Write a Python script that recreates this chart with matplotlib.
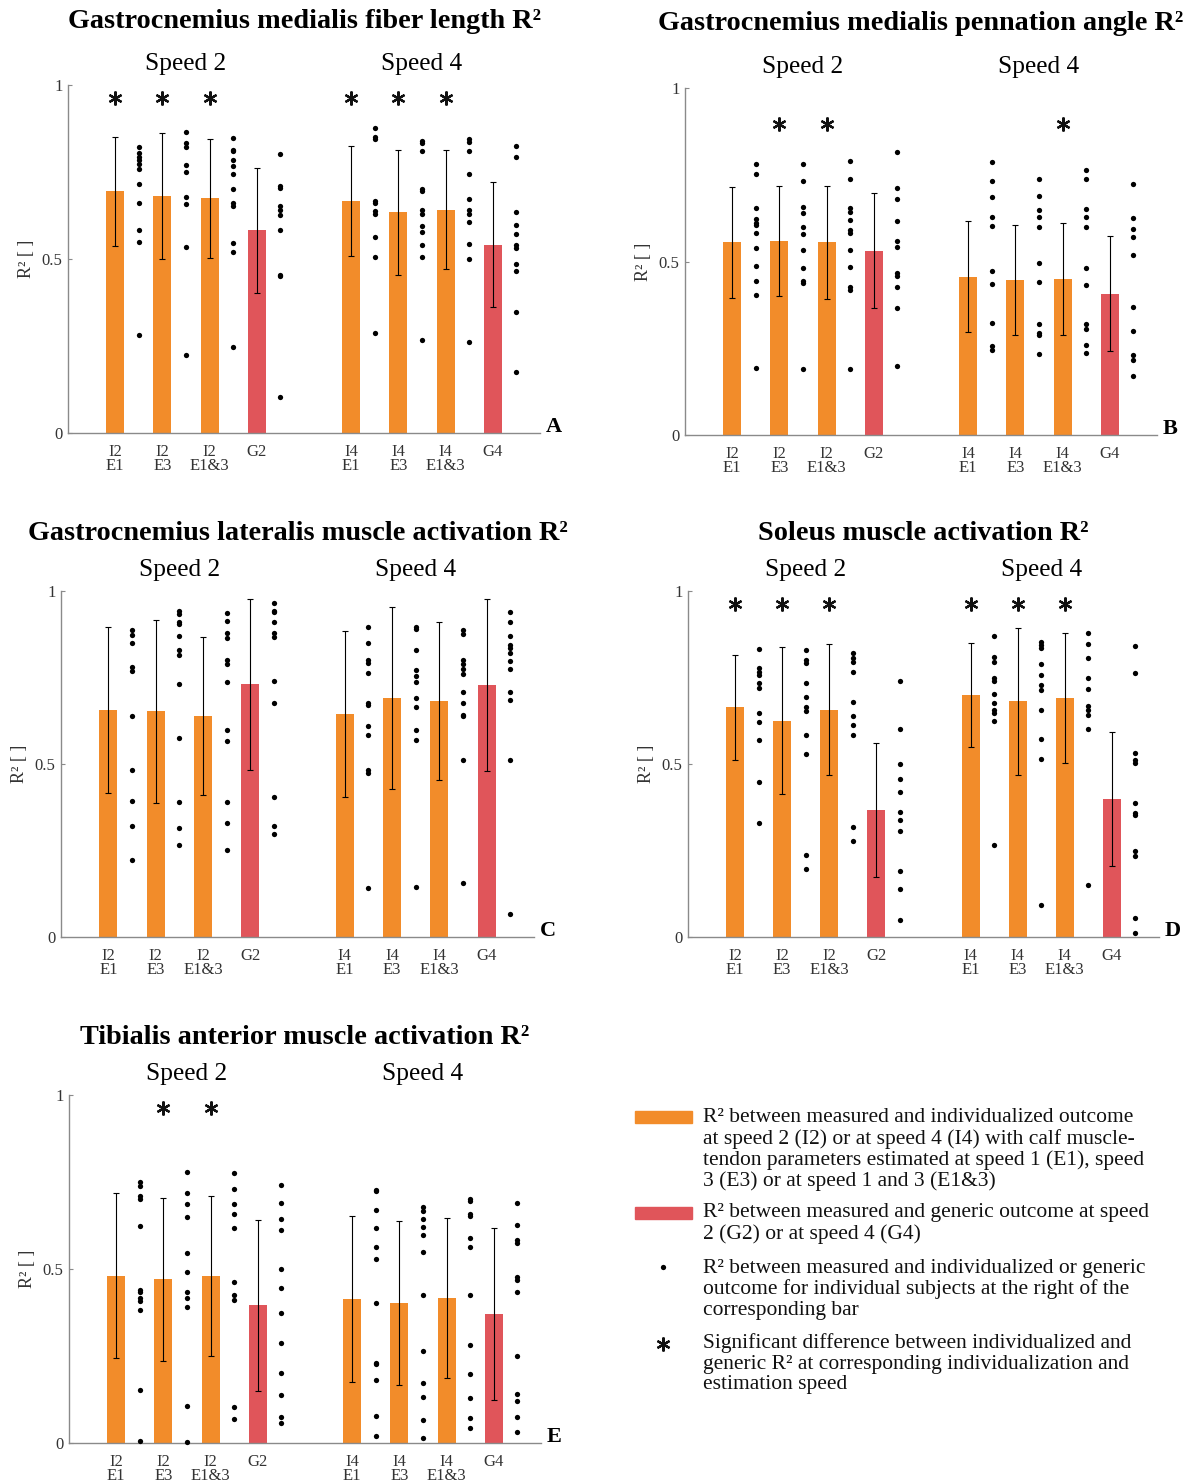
import numpy as np
import matplotlib
matplotlib.use('Agg')
import matplotlib.pyplot as plt

plt.rcParams['font.family'] = ['Liberation Serif', 'DejaVu Serif']

ORANGE = '#f28c2a'
RED = '#e0555a'
AXIS_GREY = '#8a8a8a'

positions = [1, 2, 3, 4, 6, 7, 8, 9]
tick_labels = ['I2\nE1', 'I2\nE3', 'I2\nE1&3', 'G2', 'I4\nE1', 'I4\nE3', 'I4\nE1&3', 'G4']
bar_colors = [ORANGE, ORANGE, ORANGE, RED, ORANGE, ORANGE, ORANGE, RED]

# ---- A: gastrocnemius medialis fiber length
a_title = 'Gastrocnemius medialis fiber length R²'
a_mean = [0.694, 0.681, 0.675, 0.582, 0.667, 0.634, 0.641, 0.541]
a_sd = [0.158, 0.180, 0.171, 0.180, 0.158, 0.180, 0.171, 0.180]
a_sig = [1, 1, 1, 0, 1, 1, 1, 0]
a_dots = [
    [0.821, 0.804, 0.794, 0.785, 0.773, 0.758, 0.715, 0.660, 0.582, 0.550, 0.281],
    [0.864, 0.834, 0.821, 0.770, 0.751, 0.678, 0.658, 0.534, 0.223],
    [0.847, 0.813, 0.809, 0.785, 0.767, 0.744, 0.702, 0.662, 0.653, 0.547, 0.521, 0.246],
    [0.802, 0.710, 0.703, 0.653, 0.641, 0.627, 0.582, 0.455, 0.452, 0.103],
    [0.876, 0.852, 0.844, 0.668, 0.660, 0.639, 0.630, 0.563, 0.507, 0.287],
    [0.839, 0.833, 0.811, 0.700, 0.694, 0.641, 0.630, 0.596, 0.577, 0.541, 0.507, 0.268],
    [0.846, 0.837, 0.811, 0.744, 0.672, 0.641, 0.630, 0.605, 0.543, 0.500, 0.262],
    [0.825, 0.792, 0.636, 0.598, 0.572, 0.541, 0.531, 0.486, 0.466, 0.348, 0.174],
]

# ---- B: gastrocnemius medialis pennation angle
b_title = 'Gastrocnemius medialis pennation angle R²'
b_mean = [0.555, 0.560, 0.555, 0.531, 0.456, 0.447, 0.450, 0.407]
b_sd = [0.160, 0.159, 0.162, 0.166, 0.160, 0.158, 0.161, 0.166]
b_sig = [0, 1, 1, 0, 0, 0, 1, 0]
b_dots = [
    [0.780, 0.751, 0.654, 0.622, 0.612, 0.606, 0.582, 0.539, 0.486, 0.443, 0.404, 0.193],
    [0.780, 0.732, 0.656, 0.639, 0.598, 0.579, 0.533, 0.480, 0.443, 0.438, 0.189],
    [0.789, 0.737, 0.653, 0.644, 0.620, 0.590, 0.581, 0.533, 0.485, 0.426, 0.418, 0.189],
    [0.815, 0.711, 0.679, 0.617, 0.560, 0.541, 0.466, 0.459, 0.426, 0.367, 0.200],
    [0.787, 0.732, 0.686, 0.627, 0.601, 0.472, 0.435, 0.322, 0.257, 0.244],
    [0.737, 0.689, 0.648, 0.627, 0.598, 0.495, 0.442, 0.321, 0.294, 0.287, 0.232],
    [0.763, 0.737, 0.651, 0.627, 0.598, 0.481, 0.433, 0.321, 0.306, 0.258, 0.237],
    [0.724, 0.624, 0.595, 0.571, 0.520, 0.368, 0.300, 0.230, 0.217, 0.170],
]

# ---- C: gastrocnemius lateralis activation
c_title = 'Gastrocnemius lateralis muscle activation R²'
c_mean = [0.655, 0.652, 0.639, 0.730, 0.645, 0.691, 0.682, 0.728]
c_sd = [0.240, 0.265, 0.228, 0.248, 0.240, 0.263, 0.228, 0.248]
c_sig = [0, 0, 0, 0, 0, 0, 0, 0]
c_dots = [
    [0.888, 0.873, 0.851, 0.779, 0.770, 0.638, 0.482, 0.394, 0.322, 0.223],
    [0.942, 0.933, 0.911, 0.904, 0.871, 0.829, 0.816, 0.730, 0.575, 0.391, 0.314, 0.265],
    [0.935, 0.912, 0.880, 0.864, 0.801, 0.789, 0.738, 0.597, 0.566, 0.391, 0.329, 0.252],
    [0.965, 0.942, 0.938, 0.909, 0.880, 0.868, 0.741, 0.676, 0.404, 0.322, 0.297],
    [0.897, 0.849, 0.802, 0.792, 0.763, 0.676, 0.671, 0.609, 0.583, 0.482, 0.473, 0.142],
    [0.897, 0.890, 0.829, 0.772, 0.754, 0.736, 0.690, 0.664, 0.599, 0.569, 0.145],
    [0.888, 0.877, 0.801, 0.789, 0.775, 0.760, 0.708, 0.676, 0.642, 0.638, 0.511, 0.156],
    [0.938, 0.909, 0.871, 0.844, 0.834, 0.821, 0.799, 0.775, 0.708, 0.686, 0.511, 0.067],
]

# ---- D: soleus activation
d_title = 'Soleus muscle activation R²'
d_mean = [0.664, 0.625, 0.657, 0.367, 0.700, 0.681, 0.690, 0.399]
d_sd = [0.151, 0.212, 0.189, 0.194, 0.151, 0.213, 0.188, 0.194]
d_sig = [1, 1, 1, 0, 1, 1, 1, 0]
d_dots = [
    [0.832, 0.777, 0.767, 0.757, 0.733, 0.719, 0.647, 0.620, 0.569, 0.449, 0.329],
    [0.829, 0.802, 0.792, 0.734, 0.695, 0.666, 0.653, 0.583, 0.530, 0.236, 0.197],
    [0.820, 0.806, 0.796, 0.767, 0.679, 0.639, 0.612, 0.583, 0.319, 0.278],
    [0.739, 0.601, 0.501, 0.458, 0.420, 0.362, 0.338, 0.307, 0.190, 0.140, 0.049],
    [0.871, 0.808, 0.794, 0.749, 0.739, 0.701, 0.676, 0.657, 0.648, 0.623, 0.267],
    [0.853, 0.844, 0.834, 0.789, 0.757, 0.727, 0.714, 0.657, 0.571, 0.514, 0.092],
    [0.880, 0.847, 0.806, 0.748, 0.718, 0.667, 0.655, 0.643, 0.602, 0.151],
    [0.842, 0.763, 0.532, 0.511, 0.504, 0.388, 0.358, 0.353, 0.250, 0.235, 0.054, 0.012],
]

# ---- E: tibialis anterior activation
e_title = 'Tibialis anterior muscle activation R²'
e_mean = [0.480, 0.470, 0.480, 0.396, 0.414, 0.402, 0.417, 0.371]
e_sd = [0.237, 0.235, 0.229, 0.246, 0.238, 0.235, 0.230, 0.246]
e_sig = [0, 1, 1, 0, 0, 0, 0, 0]
e_dots = [
    [0.750, 0.738, 0.711, 0.702, 0.624, 0.440, 0.433, 0.416, 0.409, 0.383, 0.152, 0.007],
    [0.780, 0.719, 0.688, 0.650, 0.547, 0.490, 0.433, 0.418, 0.392, 0.107, 0.002],
    [0.777, 0.731, 0.686, 0.659, 0.618, 0.462, 0.426, 0.410, 0.104, 0.069],
    [0.742, 0.690, 0.644, 0.613, 0.500, 0.445, 0.373, 0.288, 0.202, 0.137, 0.075, 0.057],
    [0.728, 0.723, 0.669, 0.618, 0.564, 0.529, 0.402, 0.230, 0.226, 0.181, 0.078, 0.019],
    [0.678, 0.666, 0.645, 0.621, 0.597, 0.549, 0.426, 0.264, 0.173, 0.133, 0.066, 0.013],
    [0.700, 0.694, 0.659, 0.651, 0.590, 0.562, 0.426, 0.283, 0.199, 0.130, 0.071, 0.043],
    [0.690, 0.627, 0.582, 0.575, 0.478, 0.467, 0.433, 0.251, 0.140, 0.121, 0.075, 0.032],
]

W, H = 1184, 1484
fig = plt.figure(figsize=(W / 100, H / 100), dpi=100)


def px_axes(left, top, right, bottom):
    return fig.add_axes([left / W, 1 - bottom / H, (right - left) / W, (bottom - top) / H])


def draw_panel(ax, title, mean, sd, sig, dots, letter, star_y=0.962, title_gap=60):
    ax.bar(positions, mean, width=0.38, color=bar_colors, zorder=1)
    ax.errorbar(positions, mean, yerr=sd, fmt='none', ecolor='black',
                elinewidth=0.8, capsize=2, capthick=0.8, zorder=2)
    for x, vals in zip(positions, dots):
        ax.plot([x + 0.5] * len(vals), vals, 'o', color='black', ms=3.8,
                mec='none', zorder=3, clip_on=False)
    for x, s in zip(positions, sig):
        if s:
            ax.plot(x, star_y, marker=(6, 2, 0), ms=10, mew=1.6, color='#111111', clip_on=False)
    ax.set_xlim(0, 10)
    ax.set_ylim(0, 1)
    ax.set_xticks(positions)
    ax.set_xticklabels(tick_labels, fontsize=12, linespacing=0.82, color='#333333')
    ax.tick_params(axis='x', length=0, pad=8)
    ax.set_yticks([0, 0.5, 1])
    ax.set_yticklabels(['0', '0.5', '1'], fontsize=12, color='#333333')
    ax.tick_params(axis='y', direction='in', length=3, color=AXIS_GREY, pad=4)
    ax.set_ylabel('R² [ ]', fontsize=13, color='#333333', labelpad=5)
    for side in ['top', 'right']:
        ax.spines[side].set_visible(False)
    for side in ['left', 'bottom']:
        ax.spines[side].set_color(AXIS_GREY)
        ax.spines[side].set_linewidth(1.0)
    h_px = ax.get_position().height * H
    ax.text(2.5, 1 + 21 / h_px, 'Speed 2', ha='center', va='center', fontsize=18.3,
            transform=ax.get_xaxis_transform())
    ax.text(7.5, 1 + 21 / h_px, 'Speed 4', ha='center', va='center', fontsize=18.3,
            transform=ax.get_xaxis_transform())
    ax.text(0.5, 1 + title_gap / h_px, title, ha='center', va='center', fontsize=20.3,
            fontweight='bold', transform=ax.transAxes)
    ax.text(1.012, 6 / h_px, letter, ha='left', va='center', fontsize=16,
            fontweight='bold', transform=ax.transAxes)


ax_a = px_axes(68, 85, 540, 433)
draw_panel(ax_a, a_title, a_mean, a_sd, a_sig, a_dots, 'A', title_gap=63)
ax_b = px_axes(685, 88, 1157, 435)
draw_panel(ax_b, b_title, b_mean, b_sd, b_sig, b_dots, 'B', star_y=0.895, title_gap=64)
ax_c = px_axes(61, 591, 534, 937)
draw_panel(ax_c, c_title, c_mean, c_sd, c_sig, c_dots, 'C', title_gap=58)
ax_d = px_axes(688, 591, 1159, 937)
draw_panel(ax_d, d_title, d_mean, d_sd, d_sig, d_dots, 'D', title_gap=58)
ax_e = px_axes(69, 1095, 541, 1443)
draw_panel(ax_e, e_title, e_mean, e_sd, e_sig, e_dots, 'E', title_gap=58)

# ---- legend block (pixel coordinates)
leg = fig.add_axes([0, 0, 1, 1])
leg.set_xlim(0, W)
leg.set_ylim(H, 0)
leg.axis('off')
legend_lines = [
    (1118, 'R² between measured and individualized outcome'),
    (1139, 'at speed 2 (I2) or at speed 4 (I4) with calf muscle-'),
    (1160, 'tendon parameters estimated at speed 1 (E1), speed'),
    (1181, '3 (E3) or at speed 1 and 3 (E1&3)'),
    (1213, 'R² between measured and generic outcome at speed'),
    (1234, '2 (G2) or at speed 4 (G4)'),
    (1268, 'R² between measured and individualized or generic'),
    (1289, 'outcome for individual subjects at the right of the'),
    (1310, 'corresponding bar'),
    (1343, 'Significant difference between individualized and'),
    (1364, 'generic R² at corresponding individualization and'),
    (1385, 'estimation speed'),
]
for y, txt in legend_lines:
    leg.text(703, y, txt, ha='left', va='center', fontsize=15.5, color='#111111')
leg.add_patch(plt.Rectangle((635, 1111), 57, 12, color=ORANGE))
leg.add_patch(plt.Rectangle((635, 1207), 57, 12, color=RED))
leg.plot(663, 1267, 'o', color='black', ms=3.8, mec='none')
leg.plot(663, 1344, marker=(6, 2, 0), ms=10, mew=1.6, color='#111111')

fig.savefig('out.png', dpi=100)
